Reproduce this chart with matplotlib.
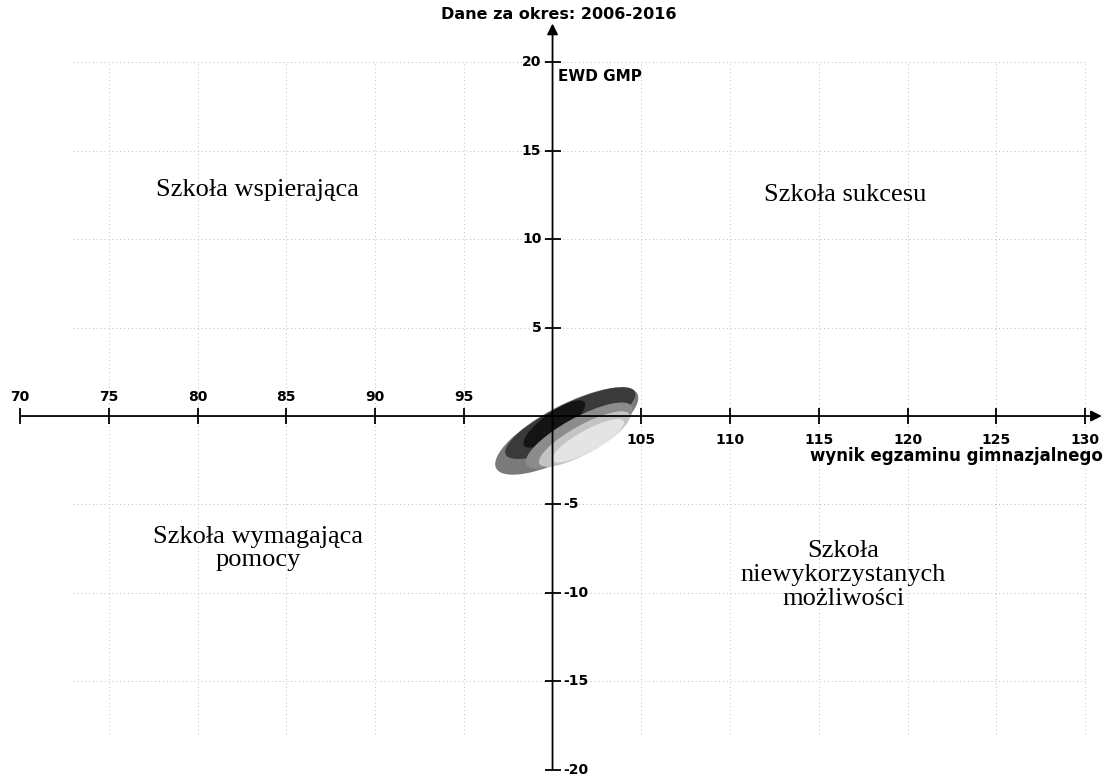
#!/usr/bin/env python3
# -*- coding: utf-8 -*-
"""
Wykres EWD GMP - cztery ćwiartki (typologia szkół), dane 2006-2016.
"""

import matplotlib
matplotlib.use("Agg")
import matplotlib.pyplot as plt
from matplotlib.patches import Ellipse


# Osie
X_TICKS_LEFT = [70, 75, 80, 85, 90, 95]          # etykiety nad osią
X_TICKS_RIGHT = [105, 110, 115, 120, 125, 130]   # etykiety pod osią
Y_TICKS_UP = [5, 10, 15, 20]                     # etykiety z lewej
Y_TICKS_DOWN = [-5, -10, -15, -20]               # etykiety z prawej
GRID_X = [75, 80, 85, 90, 95, 105, 110, 115, 120, 125, 130]
GRID_Y = [-15, -10, -5, 5, 10, 15, 20]

# Elipsy (od zewnętrznej do wewnętrznej)
ELL_X = [100.8, 101.0, 100.1, 101.5, 101.8, 102.0]
ELL_Y = [-0.85, -0.4, -0.45, -1.1, -1.3, -1.4]
ELL_W = [9.0, 8.1, 4.2, 6.8, 5.8, 4.6]
ELL_H = [2.9, 2.2, 1.3, 2.0, 1.6, 1.2]
ELL_KAT = [28, 26, 36, 29, 29, 29]
ELL_KOLOR = ["#7a7a7a", "#3a3a3a", "#141414", "#8c8c8c", "#c4c4c4", "#e4e4e4"]

# Opisy ćwiartek
CWIARTKI = [
    (83.4, 12.8, "Szkoła wspierająca"),
    (116.5, 12.5, "Szkoła sukcesu"),
    (83.4, -7.5, "Szkoła wymagająca\npomocy"),
    (116.4, -9.0, "Szkoła\nniewykorzystanych\nmożliwości"),
]


def main():
    fig = plt.figure(figsize=(11.04, 7.79), dpi=100)
    ax = fig.add_axes([0, 0, 1, 1])
    ax.set_xlim(68.87, 131.07)
    ax.set_ylim(-20.53, 23.53)
    ax.axis("off")

    # siatka kropkowana
    for gx in GRID_X:
        ax.plot([gx, gx], [-18, 20], color="#bdbdbd", ls=(0, (1, 3)), lw=0.7, zorder=1)
    for gy in GRID_Y:
        ax.plot([73, 130], [gy, gy], color="#bdbdbd", ls=(0, (1, 3)), lw=0.7, zorder=1)

    # elipsy
    for x, y, w, h, a, c in zip(ELL_X, ELL_Y, ELL_W, ELL_H, ELL_KAT, ELL_KOLOR):
        ax.add_patch(Ellipse((x, y), w, h, angle=a, facecolor=c,
                             edgecolor="none", zorder=2))

    # osie ze strzałkami
    ax.annotate("", xy=(130.95, 0), xytext=(70, 0),
                arrowprops=dict(arrowstyle="-|>", color="black", lw=1.3,
                                mutation_scale=16, shrinkA=0, shrinkB=0), zorder=3)
    ax.annotate("", xy=(100, 22.2), xytext=(100, -20),
                arrowprops=dict(arrowstyle="-|>", color="black", lw=1.3,
                                mutation_scale=16, shrinkA=0, shrinkB=0), zorder=3)

    # znaczniki
    xt = X_TICKS_LEFT + X_TICKS_RIGHT
    ax.plot(xt, [0] * len(xt), ls="none", marker="|", ms=12, mew=1.3,
            color="black", zorder=3)
    yt = Y_TICKS_UP + Y_TICKS_DOWN
    ax.plot([100] * len(yt), yt, ls="none", marker="_", ms=12, mew=1.3,
            color="black", zorder=3)

    tick_font = dict(fontsize=10, fontweight="bold", family="DejaVu Sans")
    for v in X_TICKS_LEFT:
        ax.annotate(str(v), (v, 0), xytext=(0, 9), textcoords="offset points",
                    ha="center", va="bottom", **tick_font)
    for v in X_TICKS_RIGHT:
        ax.annotate(str(v), (v, 0), xytext=(0, -12), textcoords="offset points",
                    ha="center", va="top", **tick_font)
    for v in Y_TICKS_UP:
        ax.annotate(str(v), (100, v), xytext=(-8, 0), textcoords="offset points",
                    ha="right", va="center", **tick_font)
    for v in Y_TICKS_DOWN:
        ax.annotate(str(v), (100, v), xytext=(8, 0), textcoords="offset points",
                    ha="left", va="center", **tick_font)

    # tytuły osi
    ax.text(100.3, 19.2, "EWD GMP", ha="left", va="center",
            fontsize=11, fontweight="bold", family="DejaVu Sans")
    ax.text(131.0, -2.25, "wynik egzaminu gimnazjalnego", ha="right",
            va="center", fontsize=12, fontweight="bold", family="DejaVu Sans")
    ax.text(100.35, 22.7, "Dane za okres: 2006-2016", ha="center",
            va="center", fontsize=11.5, fontweight="bold", family="DejaVu Sans")

    for x, y, s in CWIARTKI:
        ax.text(x, y, s, ha="center", va="center", fontsize=19,
                family="Liberation Serif", linespacing=1.1)

    fig.savefig("out.png", dpi=100)


if __name__ == "__main__":
    main()
